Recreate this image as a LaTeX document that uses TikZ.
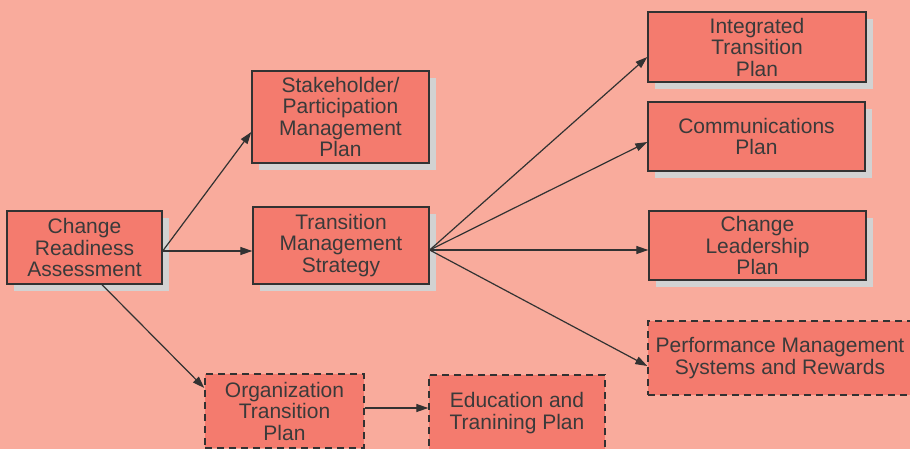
\documentclass[tikz,border=0pt]{standalone}
\usepackage{fontspec}
\setmainfont{Liberation Sans}
\usetikzlibrary{arrows.meta,shadows}
\definecolor{bgcol}{RGB}{249,171,156}
\definecolor{boxcol}{RGB}{244,123,110}
\definecolor{shadowcol}{RGB}{210,210,210}
\definecolor{linecol}{RGB}{50,50,50}
\definecolor{textcol}{RGB}{58,58,58}
\begin{document}
\begin{tikzpicture}[x=1pt,y=-1pt,
  box/.style={draw=linecol, line width=1.4pt, fill=boxcol, text=textcol,
    align=center, inner sep=0pt, font=\fontsize{21}{21.5}\selectfont},
  shadowbox/.style={box, drop shadow={shadow xshift=7pt, shadow yshift=-7pt, fill=shadowcol, opacity=1}},
  dashbox/.style={box, dash pattern=on 7pt off 5pt},
  conn/.style={draw=linecol, line width=1.2pt, -{Triangle[length=12pt,width=8pt]}}]
\fill[bgcol] (0,0) rectangle (910,449);
\useasboundingbox (0,0) rectangle (910,449);

\node[shadowbox, minimum width=155pt, minimum height=73pt] (cra) at (84.5,247.5) {Change\\Readiness\\Assessment};
\node[shadowbox, minimum width=177pt, minimum height=92pt] (stake) at (340.5,117) {Stakeholder/\\Participation\\Management\\Plan};
\node[shadowbox, minimum width=176pt, minimum height=77pt] (tms) at (341,245.5) {Transition\\Management\\Strategy};
\node[shadowbox, minimum width=218pt, minimum height=70pt] (itp) at (757,47) {Integrated\\Transition\\Plan};
\node[shadowbox, minimum width=217pt, minimum height=69pt] (comm) at (756.5,136.5) {Communications\\Plan};
\node[shadowbox, minimum width=217pt, minimum height=69pt] (lead) at (757.5,245.5) {Change\\Leadership\\Plan};
\node[dashbox, minimum width=264pt, minimum height=74pt] (perf) at (780,358) {Performance Management\\Systems and Rewards};
\node[dashbox, minimum width=159pt, minimum height=74pt] (org) at (284.5,411) {Organization\\Transition\\Plan};
\node[dashbox, minimum width=176pt, minimum height=76pt] (edu) at (517,413) {Education and\\Tranining Plan};

\coordinate (craout) at ([yshift=-3.5pt]cra.east);
\coordinate (tmsout) at ([yshift=-4.5pt]tms.east);
\draw[conn] (craout) -- ([yshift=-15pt]stake.west);
\draw[conn] (craout) -- ([yshift=-5.5pt]tms.west);
\draw[conn] ([xshift=17.5pt]cra.south) -- ([yshift=23pt]org.west);
\draw[conn] (tmsout) -- ([yshift=-10pt]itp.west);
\draw[conn] (tmsout) -- ([yshift=-5.5pt]comm.west);
\draw[conn] (tmsout) -- ([yshift=-4.5pt]lead.west);
\draw[conn] (tmsout) -- ([yshift=-8pt]perf.west);
\draw[conn] ([yshift=3pt]org.east) -- ([yshift=5pt]edu.west);
\end{tikzpicture}
\end{document}
